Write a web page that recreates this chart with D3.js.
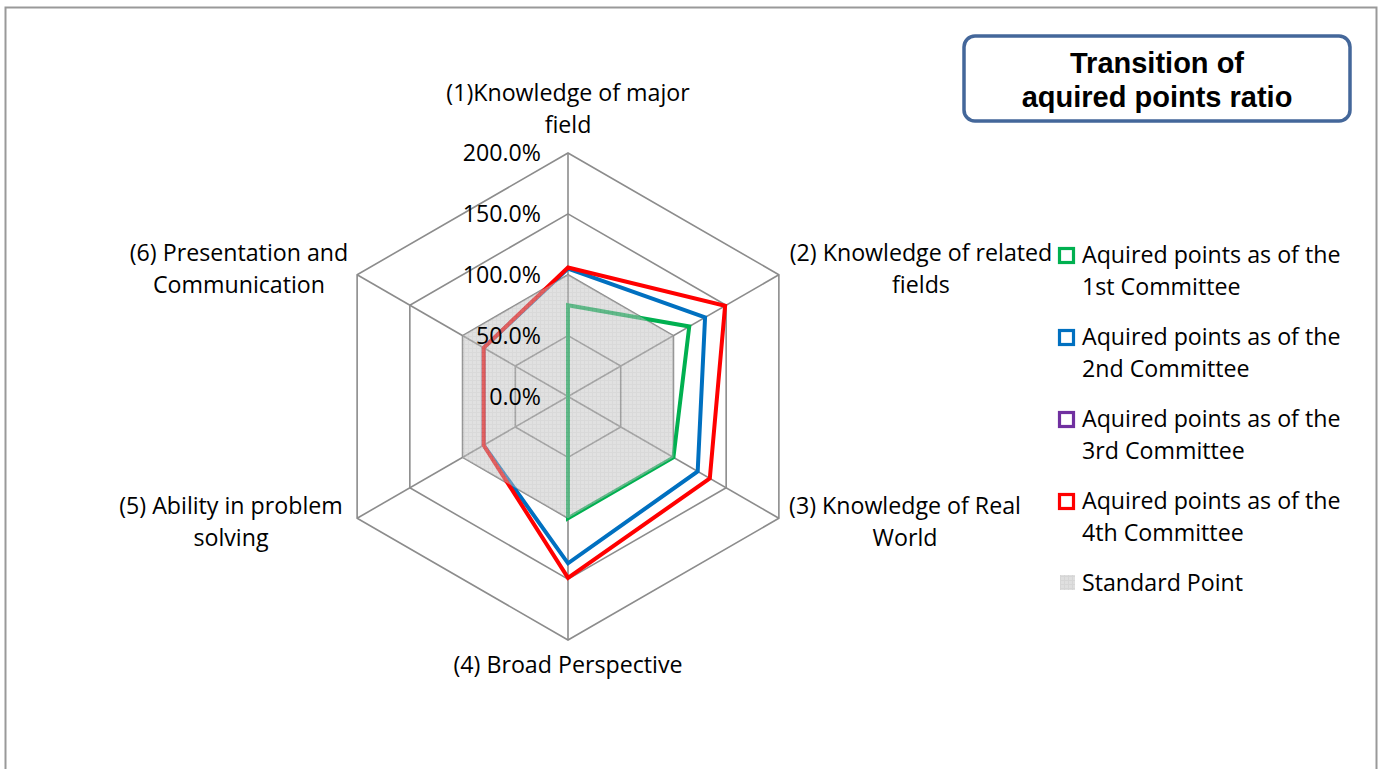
<!DOCTYPE html>
<html>
<head>
<meta charset="utf-8">
<script src="https://cdn.jsdelivr.net/npm/d3@7"></script>
<style>
  body { margin: 0; background: #fff; }
  svg { display: block; font-family: "Open Sans", Lato, sans-serif; }
</style>
</head>
<body>
<svg id="chart" width="1383" height="769"></svg>
<script>
// Axis names (two lines each where the original wraps)
const axes = [
    ["(1)Knowledge of major", "field"],
    ["(2) Knowledge of related", "fields"],
    ["(3) Knowledge of Real", "World"],
    ["(4) Broad Perspective"],
    ["(5) Ability in problem", "solving"],
    ["(6) Presentation and", "Communication"]
];

// Ratios (1 = 100%)
const committee1 = [0.75, 1.15, 1.00, 1.00, 0, 0];
const committee2 = [1.05, 1.30, 1.23, 1.37, 0.80, 0.80];
const committee3 = [];
const committee4 = [1.06, 1.49, 1.345, 1.49, 0.80, 0.80];
const standard = [1, 1, 1, 1, 1, 1];

const ticks = [0, 0.5, 1, 1.5, 2];

const series = [
    { name: ["Aquired points as of the", "1st Committee"], values: committee1, color: "#00b050" },
    { name: ["Aquired points as of the", "2nd Committee"], values: committee2, color: "#0070c0" },
    { name: ["Aquired points as of the", "3rd Committee"], values: committee3, color: "#7030a0" },
    { name: ["Aquired points as of the", "4th Committee"], values: committee4, color: "#ff0000" }
];

const fontSize = 23.2;
const svg = d3.select("#chart");
const cx = 568, cy = 396.5;
const r = d3.scaleLinear().domain([0, 2]).range([0, 243.5]);
const angle = i => i * Math.PI / 3;
const pt = (i, v) => [cx + r(v) * Math.sin(angle(i)), cy - r(v) * Math.cos(angle(i))];

// outer frame
svg.append("rect")
    .attr("x", 5.5).attr("y", 7.5)
    .attr("width", 1371).attr("height", 780)
    .attr("fill", "none").attr("stroke", "#999").attr("stroke-width", 2);

// pattern for the standard area
const defs = svg.append("defs");
const pat = defs.append("pattern").attr("id", "std").attr("width", 4).attr("height", 4)
    .attr("patternUnits", "userSpaceOnUse");
pat.append("rect").attr("width", 4).attr("height", 4).attr("fill", "#c4c4c4");
pat.append("path").attr("d", "M0,0.5H4M0.5,0V4").attr("stroke", "#b4b4b4").attr("stroke-width", 1);

// grid
const line = d3.line();
const grid = svg.append("g").attr("stroke", "#8c8c8c").attr("stroke-width", 1.6).attr("fill", "none");
ticks.slice(1).forEach(t => {
    grid.append("path").attr("d", line(axes.map((a, i) => pt(i, t))) + "Z");
});
axes.forEach((a, i) => {
    grid.append("path").attr("d", line([pt(i, 0), pt(i, 2)]));
});

// series lines
series.forEach(s => {
    if (!s.values.length) return;
    svg.append("path")
        .attr("d", line(s.values.map((v, i) => pt(i, v))) + "Z")
        .attr("fill", "none")
        .attr("stroke", s.color)
        .attr("stroke-width", 4)
        .attr("stroke-linejoin", "miter");
});

// standard area drawn over, semi transparent
svg.append("path")
    .attr("d", line(standard.map((v, i) => pt(i, v))) + "Z")
    .attr("fill", "url(#std)")
    .attr("fill-opacity", 0.5);

// tick labels
svg.append("g").selectAll("text").data(ticks).join("text")
    .attr("x", 541)
    .attr("y", d => cy - r(d))
    .attr("dy", "0.35em")
    .attr("text-anchor", "end")
    .attr("font-size", fontSize)
    .attr("fill", "#000")
    .text(d => d3.format(".1%")(d));

// axis labels
const labelPos = [
    { x: 568, y: 93 },
    { x: 921, y: 253 },
    { x: 905, y: 506 },
    { x: 568, y: 665 },
    { x: 231, y: 506 },
    { x: 239, y: 253 }
];
axes.forEach((a, i) => {
    const t = svg.append("text")
        .attr("text-anchor", "middle")
        .attr("font-size", fontSize)
        .attr("fill", "#000");
    a.forEach((ln, j) => {
        t.append("tspan")
            .attr("x", labelPos[i].x)
            .attr("y", labelPos[i].y + j * 32)
            .attr("dy", "0.35em")
            .text(ln);
    });
});

// legend
const legend = svg.append("g").attr("font-size", fontSize);
series.forEach((s, k) => {
    const y0 = 255 + k * 82;
    legend.append("rect")
        .attr("x", 1059.5).attr("y", y0 - 6.5)
        .attr("width", 14).attr("height", 14)
        .attr("fill", "#fff").attr("stroke", s.color).attr("stroke-width", 3.2);
    const t = legend.append("text").attr("fill", "#000");
    s.name.forEach((ln, j) => {
        t.append("tspan").attr("x", 1082).attr("y", y0 + j * 32).attr("dy", "0.35em").text(ln);
    });
});
const ys = 255 + 4 * 82;
legend.append("rect")
    .attr("x", 1060).attr("y", ys - 8)
    .attr("width", 15).attr("height", 15)
    .attr("fill", "url(#std)").attr("fill-opacity", 0.55);
legend.append("text").attr("x", 1082).attr("y", ys).attr("dy", "0.35em").attr("fill", "#000")
    .text("Standard Point");

// title box
svg.append("rect")
    .attr("x", 964).attr("y", 36)
    .attr("width", 386).attr("height", 85)
    .attr("rx", 11)
    .attr("fill", "#fff").attr("stroke", "#44679a").attr("stroke-width", 3.5);
const title = svg.append("text")
    .attr("text-anchor", "middle")
    .attr("font-family", "Liberation Sans, Arial, sans-serif")
    .attr("font-weight", "bold")
    .attr("font-size", 29);
["Transition of", "aquired points ratio"].forEach((ln, j) => {
    title.append("tspan").attr("x", 1157).attr("y", 63 + j * 34).attr("dy", "0.35em").text(ln);
});
</script>
</body>
</html>
